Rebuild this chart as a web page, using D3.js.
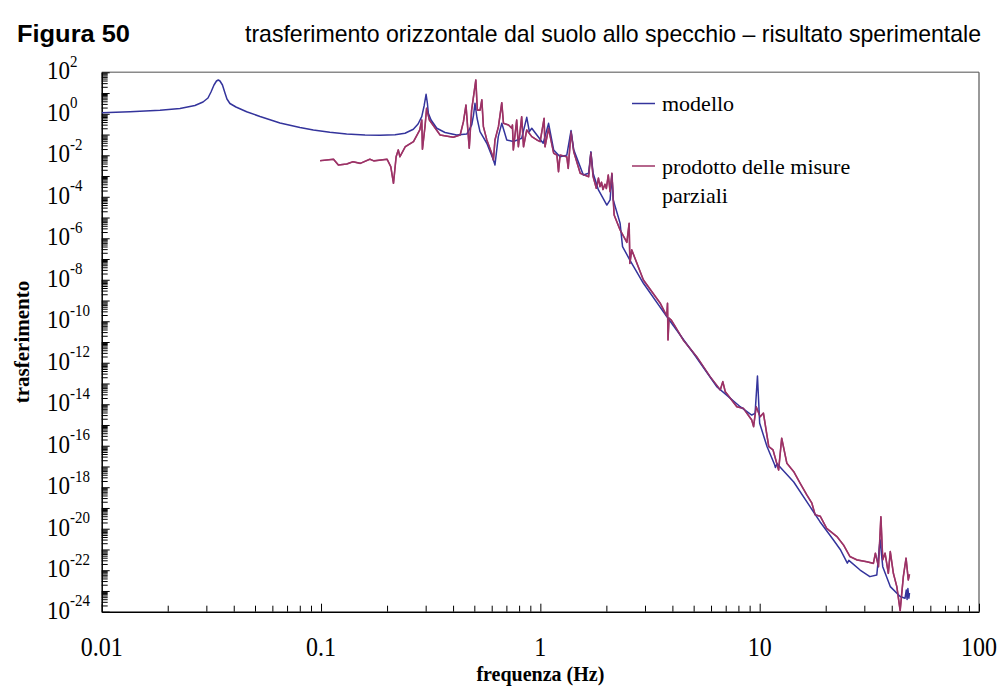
<!DOCTYPE html>
<html><head><meta charset="utf-8">
<script src="https://cdn.jsdelivr.net/npm/d3@7"></script>
<style>
html,body{margin:0;padding:0;background:#fff;}
svg{display:block;}
</style></head>
<body>
<svg id="c" width="1000" height="686"></svg>
<script>
// ---------- data ----------
const titleLabel = "Figura 50";
const titleText = "trasferimento orizzontale dal suolo allo specchio \u2013 risultato sperimentale";
const xAxisTitle = "frequenza (Hz)";
const yAxisTitle = "trasferimento";
const seriesNames = ["modello", "prodotto delle misure", "parziali"];

const xTickValues = [0.01, 0.1, 1, 10, 100];
const xTickLabels = ["0.01", "0.1", "1", "10", "100"];
const yTickExponents = [2, 0, -2, -4, -6, -8, -10, -12, -14, -16, -18, -20, -22, -24];

// modello: frequency (Hz) / transfer
const modFreq = [0.0100,0.01346,0.01845,0.02275,0.02661,0.02897,0.03052,0.03150,0.03251,0.03337,
 0.03401,0.03461,0.03553,0.03648,0.03725,0.03843,0.04093,0.04580,0.05271,0.06501,
 0.08017,0.09226,0.1097,0.1308,0.1587,0.1858,0.2175,0.2415,0.2636,0.2770,
 0.2879,0.2951,0.3013,0.3054,0.3086,0.3175,0.3372,0.3676,0.4155,0.4617,
 0.4865,0.4958,0.5035,0.5143,0.5306,0.570,0.611,0.621,0.643,0.667,
 0.703,0.753,0.822,0.867,0.891,0.914,0.964,1.03,1.09,1.15,
 1.23,1.32,1.38,1.42,1.57,1.66,1.70,1.74,1.84,2.01,
 2.08,2.12,2.15,2.31,2.37,2.56,2.95,3.77,4.99,6.37,
 8.15,9.20,9.53,9.77,10.0,10.8,11.7,11.8,12.0,14.3,
 17.0,18.8,21.7,23.3,24.9,25.1,25.5,28.7,31.8,34.2,
 35.4,36.4,39.4,43.7,46.0,46.6,47.0,47.4,47.9,48.2];
const modVal = [1.13,1.26,1.47,1.80,2.51,3.71,5.77,11.2,24.4,38.1,
 42.6,38.1,24.4,10.1,5.17,3.13,2.13,1.26,0.741,0.361,
 0.219,0.166,0.128,0.106,0.0951,0.0920,0.0973,0.115,0.179,0.322,
 0.724,2.38,8.71,3.31,1.06,0.502,0.200,0.126,0.0951,0.106,
 0.288,0.875,3.21,0.628,0.137,0.0380,5.89e-3,3.39e-3,0.0794,0.347,
 0.0550,0.0457,0.0661,0.676,0.138,0.200,0.0955,0.0380,0.347,0.0182,
 8.51e-3,0.0102,0.155,0.0182,1.12e-3,1.35e-3,0.0148,1.35e-3,2.14e-4,3.98e-5,
 7.08e-5,1.12e-3,7.08e-5,5.25e-6,3.98e-7,8.91e-8,6.76e-9,1.66e-10,2.88e-12,7.08e-14,
 7.59e-15,3.02e-15,3.63e-15,2.29e-13,1.20e-15,9.12e-17,1.20e-17,9.0e-18,1.35e-17,1.78e-18,
 1.12e-19,2.24e-20,2.88e-21,1.0e-21,2.57e-22,2.2e-22,3.0e-22,1.02e-22,4.90e-23,5.89e-23,
 2.88e-21,1.48e-22,1.62e-23,5.37e-24,4.47e-24,1.1e-23,3.9e-24,1.3e-23,4.5e-24,8.0e-24];

// prodotto delle misure parziali: frequency (Hz) / transfer
const prodFreq = [0.0990,0.114,0.120,0.131,0.140,0.151,0.167,0.174,0.200,0.208,
 0.214,0.220,0.225,0.229,0.242,0.264,0.282,0.288,0.290,0.298,
 0.303,0.312,0.349,0.401,0.431,0.446,0.458,0.474,0.486,0.508,
 0.516,0.531,0.541,0.550,0.570,0.600,0.611,0.621,0.644,0.667,
 0.679,0.716,0.741,0.746,0.753,0.780,0.794,0.822,0.838,0.867,
 0.914,0.964,0.998,1.04,1.05,1.09,1.15,1.19,1.21,1.23,
 1.32,1.34,1.38,1.42,1.52,1.66,1.70,1.74,1.80,1.84,
 1.87,1.90,1.93,1.97,2.00,2.04,2.08,2.12,2.15,2.17,
 2.31,2.48,2.54,2.56,2.61,2.95,3.52,3.77,3.80,3.82,
 3.86,3.95,4.09,4.48,5.16,5.94,6.61,6.79,6.97,7.87,
 8.43,9.20,9.38,9.64,10.05,10.4,11.0,11.5,12.2,12.6,
 13.3,14.3,15.3,16.4,17.3,17.9,18.9,20.2,22.5,24.1,
 25.8,27.7,30.8,33.0,33.7,34.8,35.7,36.4,37.3,38.6,
 39.4,40.7,42.2,43.7,45.2,46.5,47.6,48.2];
const prodVal = [5.50e-3,6.46e-3,3.39e-3,3.80e-3,4.90e-3,4.07e-3,6.46e-3,5.37e-3,6.46e-3,2.82e-3,
 4.47e-4,8.51e-3,0.0182,8.51e-3,0.0257,0.0457,0.166,0.501,0.0195,0.251,
 1.84,0.501,0.0955,0.0741,0.0955,0.417,2.63,0.0219,1.51,42.7,
 1.51,1.51,4.68,0.240,0.0550,0.0126,5.89e-3,0.0550,0.240,3.43,
 0.347,0.288,0.200,0.288,0.0182,0.501,0.0257,0.724,0.0257,0.166,
 0.0794,0.0550,0.0457,0.603,0.0257,0.200,0.0126,0.0102,1.62e-3,0.0102,
 8.51e-3,2.34e-3,0.138,0.0148,1.35e-3,9.33e-4,0.0135,9.33e-4,2.57e-4,7.94e-4,
 3.09e-4,5.01e-4,2.24e-4,3.98e-4,2.51e-4,1.12e-3,1.78e-4,1.35e-3,7.08e-5,1.32e-5,
 2.51e-6,6.31e-7,5.25e-6,6.17e-8,2.75e-7,9.77e-9,7.41e-10,1.78e-10,7.41e-10,1.26e-11,
 1.41e-10,1.15e-10,6.31e-11,1.26e-11,1.95e-12,2.14e-13,4.90e-14,1.23e-13,3.98e-14,7.59e-15,
 6.31e-15,1.74e-15,8.32e-16,7.59e-15,2.51e-15,3.72e-15,9.12e-17,6.31e-17,6.76e-18,2.29e-16,
 1.45e-17,5.62e-18,1.55e-18,4.27e-19,1.70e-19,4.68e-20,3.98e-20,1.05e-20,4.17e-21,1.66e-21,
 4.57e-22,3.16e-22,2.57e-22,2.14e-22,6.61e-22,1.48e-22,3.80e-20,3.16e-22,6.61e-22,7.08e-23,
 7.94e-22,7.08e-23,1.62e-23,1.12e-24,5.01e-23,3.80e-22,3.39e-23,6.31e-23];

// ---------- layout ----------
const svg = d3.select("#c");
const L = 101.7, R = 979, T = 72.3, B = 611.7;
const x = d3.scaleLog().domain([0.01, 100]).range([L, R]);
const y = d3.scaleLog().domain([1e-24, 1e2]).range([B, T]);
const serif = "'Liberation Serif','Times New Roman',serif";
const sans = "'Liberation Sans',Arial,sans-serif";
const blue = "#34349c", red = "#9c3366";

// title (condensed look: narrower font, stretched vertically)
svg.append("text").attr("transform", "translate(17,42) scale(1,1.18)").attr("font-family", sans)
  .attr("font-weight", "bold").attr("font-size", 21).attr("fill", "#000")
  .attr("textLength", 113).attr("lengthAdjust", "spacingAndGlyphs").text(titleLabel);
svg.append("text").attr("transform", "translate(245,42) scale(1,1.2)").attr("font-family", sans)
  .attr("font-size", 20).attr("fill", "#000")
  .attr("textLength", 736).attr("lengthAdjust", "spacingAndGlyphs").text(titleText);

// clip
svg.append("defs").append("clipPath").attr("id", "clip")
  .append("rect").attr("x", L).attr("y", T).attr("width", R - L).attr("height", B - T);

// frame top/right
svg.append("line").attr("x1", L).attr("x2", R).attr("y1", T).attr("y2", T).attr("stroke", "#8a8a8a").attr("stroke-width", 1.5);
svg.append("line").attr("x1", R).attr("x2", R).attr("y1", T).attr("y2", B).attr("stroke", "#555").attr("stroke-width", 1.2);

// y ticks (major + minor)
const yTicks = [];
for (let d = -24; d <= 2; d++) {
  yTicks.push(Math.pow(10, d));
  if (d < 2) for (let k = 2; k <= 9; k++) yTicks.push(k * Math.pow(10, d));
}
const yAxis = d3.axisLeft(y).tickValues(yTicks).tickFormat("").tickSizeOuter(0)
  .tickSizeInner(-7);
const gy = svg.append("g").attr("transform", `translate(${L},0)`).call(yAxis);
gy.selectAll(".tick line").attr("stroke", "#000").attr("stroke-width", 1)
  .attr("x2", d => (Math.abs(Math.log10(d) - Math.round(Math.log10(d))) < 1e-9) ? 8 : 6);
gy.select(".domain").attr("stroke", "#000").attr("stroke-width", 1.5);

// x ticks
const xTicks = [];
for (let d = -2; d <= 2; d++) {
  xTicks.push(Math.pow(10, d));
  if (d < 2) for (let k = 2; k <= 9; k++) xTicks.push(k * Math.pow(10, d));
}
const xAxis = d3.axisBottom(x).tickValues(xTicks).tickFormat("").tickSizeOuter(0).tickSizeInner(-6);
const gx = svg.append("g").attr("transform", `translate(0,${B})`).call(xAxis);
gx.selectAll(".tick line").attr("stroke", "#000").attr("stroke-width", 1)
  .attr("y2", d => (Math.abs(Math.log10(d) - Math.round(Math.log10(d))) < 1e-9) ? -8 : -6);
gx.select(".domain").attr("stroke", "#000").attr("stroke-width", 1.5);

// x tick labels
svg.append("g").selectAll("text").data(xTickValues).join("text")
  .attr("transform", d => `translate(${x(d)},656) scale(1,1.1)`).attr("text-anchor", "middle")
  .attr("font-family", serif).attr("font-size", 24).attr("fill", "#000")
  .text((d, i) => xTickLabels[i]);

// y tick labels with superscript exponent
const yl = svg.append("g").selectAll("text").data(yTickExponents).join("text")
  .attr("transform", d => `translate(47,${y(Math.pow(10, d)) + 7}) scale(1,1.12)`)
  .attr("font-family", serif).attr("font-size", 23).attr("fill", "#000");
yl.append("tspan").text("10");
yl.append("tspan").attr("dy", -11).attr("font-size", 15).text(d => String(d));

// axis titles
svg.append("text").attr("x", (L + R) / 2).attr("y", 681).attr("text-anchor", "middle")
  .attr("font-family", serif).attr("font-weight", "bold").attr("font-size", 20).text(xAxisTitle);
svg.append("text").attr("transform", `translate(29,${(T + B) / 2}) rotate(-90)`).attr("text-anchor", "middle")
  .attr("font-family", serif).attr("font-weight", "bold").attr("font-size", 21).text(yAxisTitle);

// lines
const line = d3.line().x(d => x(d[0])).y(d => y(d[1]));
const plot = svg.append("g").attr("clip-path", "url(#clip)");
plot.append("path").datum(prodFreq.map((f, i) => [f, prodVal[i]]))
  .attr("d", line).attr("fill", "none").attr("stroke", red).attr("stroke-width", 1.6).attr("stroke-linejoin", "round");
plot.append("path").datum(modFreq.map((f, i) => [f, modVal[i]]))
  .attr("d", line).attr("fill", "none").attr("stroke", blue).attr("stroke-width", 1.5).attr("stroke-linejoin", "round");
plot.append("path").datum(prodFreq.map((f, i) => [f, prodVal[i]]))
  .attr("d", line).attr("fill", "none").attr("stroke", red).attr("stroke-width", 1.4).attr("stroke-opacity", 0.85).attr("stroke-linejoin", "round");

// legend
const leg = svg.append("g").attr("font-family", serif).attr("font-size", 22).attr("fill", "#000");
leg.append("line").attr("x1", 632).attr("x2", 655).attr("y1", 103.5).attr("y2", 103.5).attr("stroke", blue).attr("stroke-width", 1.5);
leg.append("text").attr("x", 662).attr("y", 111).text(seriesNames[0]);
leg.append("line").attr("x1", 632).attr("x2", 655).attr("y1", 166).attr("y2", 166).attr("stroke", red).attr("stroke-width", 1.5);
leg.append("text").attr("x", 662).attr("y", 174).text(seriesNames[1]);
leg.append("text").attr("x", 662).attr("y", 203).text(seriesNames[2]);
</script>
</body></html>
